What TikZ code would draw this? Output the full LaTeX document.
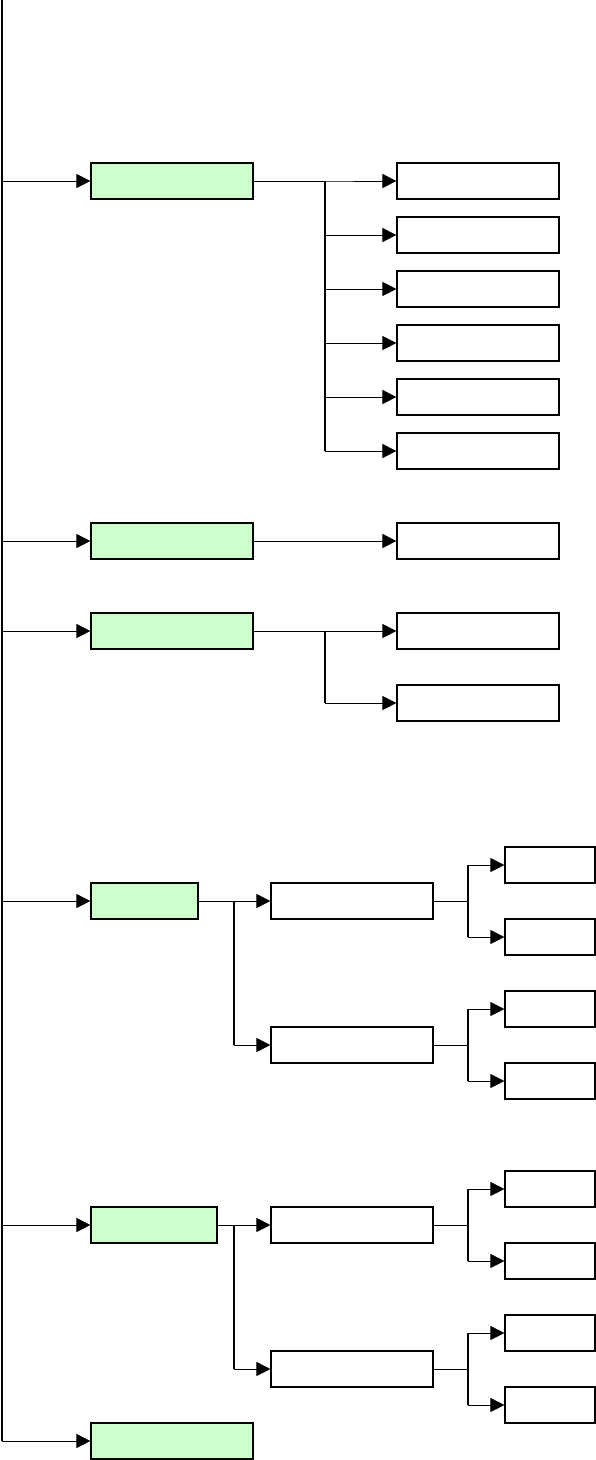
\documentclass[tikz,border=0pt]{standalone}
\usepackage{tikz}
\usetikzlibrary{arrows.meta,positioning,calc}
\definecolor{trgreen}{HTML}{CCFFCC}
\definecolor{trink}  {HTML}{000000}
\tikzset{
  trbox/.style={draw=trink, fill=white, line width=1.2pt, inner sep=0pt,
                minimum width=#1, minimum height=36pt},
  trbox/.default=162pt,
  trtopic/.style={trbox=#1, fill=trgreen},
  trtopic/.default=162pt,
  trleaf/.style={trbox=90pt},
  trarrow/.style={-{Triangle[length=14pt,width=14pt]}, draw=trink, line width=0.8pt},
  trfork/.style={draw=trink, line width=1.2pt},
  trtrunk/.style={draw=trink, line width=2.2pt},
}

\begin{document}
\begin{tikzpicture}[x=1pt, y=-1pt]
  \useasboundingbox (0,0) rectangle (596,1460);
  % first level, hanging off the trunk
  \node[trtopic]        (g1) at (172,181)  {};
  \node[trtopic]        (g2) at (172,541)  {};
  \node[trtopic]        (g3) at (172,631)  {};
  \node[trtopic=107pt]  (g4) at (144.5,901) {};
  \node[trtopic=126pt]  (g5) at (154,1225) {};
  \node[trtopic]        (g6) at (172,1441) {};
  \coordinate (top) at (2,0);
  \draw[trtrunk] (top) -- (top |- g6.west);
  \foreach \g in {g1,g2,g3,g4,g5,g6}
    \draw[trarrow] (top |- \g.west) -- (\g.west);

  % second level, right column
  \foreach \n/\y in {a1/181, a2/235, a3/289, a4/343, a5/397, a6/451,
                     b1/541, c1/631, c2/703}
    { \node[trbox] (\n) at (478,\y) {}; }
  \coordinate (forkA) at (325,0);
  \draw[trfork] (forkA |- a1.west) -- (forkA |- a6.west);
  \draw[trfork] (forkA |- c1.west) -- (forkA |- c2.west);
  \foreach \n in {a1,a2,a3,a4,a5,a6}
    \draw[trarrow] (g1.east) -- (forkA |- g1.east) |- (\n.west);
  \draw[trarrow] (g2.east) -- (b1.west);
  \foreach \n in {c1,c2}
    \draw[trarrow] (g3.east) -- (forkA |- g3.east) |- (\n.west);

  % second level, middle column
  \foreach \n/\y in {d1/901, d2/1045, e1/1225, e2/1369}
    { \node[trbox] (\n) at (352,\y) {}; }
  \coordinate (forkB) at (234,0);
  \draw[trfork] (forkB |- d1.west) -- (forkB |- d2.west);
  \draw[trfork] (forkB |- e1.west) -- (forkB |- e2.west);
  \foreach \n in {d1,d2}
    \draw[trarrow] (g4.east) -- (forkB |- g4.east) |- (\n.west);
  \foreach \n in {e1,e2}
    \draw[trarrow] (g5.east) -- (forkB |- g5.east) |- (\n.west);

  % third level, leaves
  \coordinate (forkC) at (468,0);
  \foreach \p/\ya/\yb in {d1/865/937, d2/1009/1081, e1/1189/1261, e2/1333/1405}
    {
      \node[trleaf] (\p a) at (550,\ya) {};
      \node[trleaf] (\p b) at (550,\yb) {};
      \draw[trfork] (forkC |- \p a.west) -- (forkC |- \p b.west);
      \draw[trarrow] (\p.east) -- (forkC |- \p.east) |- (\p a.west);
      \draw[trarrow] (\p.east) -- (forkC |- \p.east) |- (\p b.west);
    }
\end{tikzpicture}
\end{document}
